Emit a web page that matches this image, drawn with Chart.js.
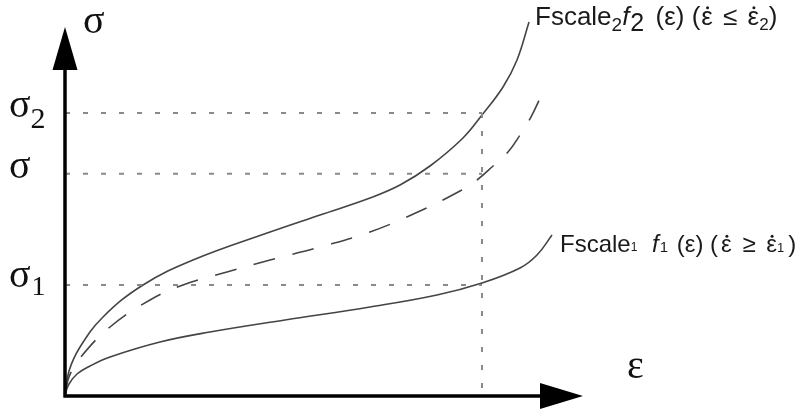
<!DOCTYPE html>
<html>
<head>
<meta charset="utf-8">
<script src="https://cdn.jsdelivr.net/npm/chart.js@4"></script>
<style>
  html, body { margin: 0; padding: 0; background: #fff; }
</style>
</head>
<body>
<canvas id="c" width="803" height="415"></canvas>
<script>
const upperX = [0.1, 0.77, 2.9, 7.34, 15.06, 24.71, 39.58, 49.23, 58.88, 64.67, 70.46, 76.83, 80.5, 84.56, 87.26, 89.58];
const upperY = [0.8, 6.78, 13.28, 21.41, 30.08, 36.86, 44.44, 49.05, 53.66, 57.18, 62.33, 69.92, 76.15, 83.74, 91.06, 101.36];

const dashedX = [0.1, 0.77, 2.9, 8.69, 16.41, 22.78, 31.27, 39.58, 49.23, 58.88, 68.53, 76.25, 79.54, 82.43, 85.52, 87.84, 90.15, 92.66];
const dashedY = [0.8, 5.15, 10.3, 18.7, 26.02, 30.08, 33.6, 36.86, 40.38, 44.44, 50.14, 55.56, 58.54, 62.06, 66.12, 70.73, 76.15, 83.74];

const lowerX = [0.1, 0.77, 2.32, 4.83, 8.69, 18.34, 27.99, 42.47, 58.88, 71.81, 80.5, 87.84, 91.12, 94.02];
const lowerY = [0.8, 3.25, 5.96, 8.13, 10.57, 14.63, 17.34, 20.6, 24.12, 27.37, 30.62, 34.69, 38.21, 43.63];

// Niveaus der gestrichelten Hilfslinien
const SIGMA1 = 30.1;
const SIGMA = 60.2;
const SIGMA2 = 76.7;
const EPS_STAR = 80.5;

const toPts = (xs, ys) => xs.map((x, i) => ({ x, y: ys[i] }));

const CURVE = '#444';
const GUIDE = '#8a8a8a';
const SERIF = '"Liberation Serif", "DejaVu Serif", serif';
const SANS = '"Liberation Sans", Arial, sans-serif';

function guide(points) {
  return {
    data: points, borderColor: GUIDE, borderWidth: 2,
    borderDash: [5, 13], pointRadius: 0, tension: 0
  };
}

function curve(xs, ys, dash) {
  return {
    data: toPts(xs, ys), borderColor: CURVE, borderWidth: 1.6,
    borderDash: dash || [], pointRadius: 0, tension: 0.4
  };
}

// Text aus Stücken (normal / tiefgestellt / kursiv / Punkt darüber) zeichnen
function drawRuns(ctx, x, y, runs, family) {
  runs.forEach(r => {
    ctx.font = (r.italic ? 'italic ' : '') + r.size + 'px ' + (r.family || family);
    const w = ctx.measureText(r.t).width;
    ctx.fillText(r.t, x, y + (r.dy || 0));
    if (r.dot) {
      ctx.beginPath();
      ctx.arc(x + w / 2 + 0.5, y - r.size * 0.66, 1.5, 0, Math.PI * 2);
      ctx.fill();
    }
    x += w + (r.gap || 0);
  });
}

const axesAndLabels = {
  id: 'axesAndLabels',
  afterDatasetsDraw(chart) {
    const { ctx, chartArea, scales } = chart;
    const x0 = scales.x.getPixelForValue(0);
    const y0 = scales.y.getPixelForValue(0);
    const top = chartArea.top, right = chartArea.right;

    ctx.save();
    ctx.strokeStyle = '#000';
    ctx.fillStyle = '#000';
    ctx.lineWidth = 3.5;
    ctx.beginPath();
    ctx.moveTo(x0, y0 + 1.5); ctx.lineTo(x0, top + 40);
    ctx.moveTo(x0 - 1.5, y0); ctx.lineTo(right - 40, y0);
    ctx.stroke();

    // Pfeilspitzen
    ctx.beginPath();
    ctx.moveTo(x0, top); ctx.lineTo(x0 - 12.5, top + 43); ctx.lineTo(x0 + 12.5, top + 43);
    ctx.closePath(); ctx.fill();
    ctx.beginPath();
    ctx.moveTo(right, y0); ctx.lineTo(right - 43, y0 - 13); ctx.lineTo(right - 43, y0 + 13);
    ctx.closePath(); ctx.fill();

    ctx.fillStyle = '#111';
    ctx.textBaseline = 'alphabetic';
    ctx.textAlign = 'left';

    // Achsenbeschriftungen
    ctx.font = '40px ' + SERIF;
    ctx.fillText('σ', x0 + 18, top + 6);
    ctx.fillText('ε', right + 44, y0 - 18);

    const yS2 = scales.y.getPixelForValue(SIGMA2);
    const yS = scales.y.getPixelForValue(SIGMA);
    const yS1 = scales.y.getPixelForValue(SIGMA1);
    drawRuns(ctx, 9, yS2 + 4, [{ t: 'σ', size: 40 }, { t: '2', size: 30, dy: 11 }], SERIF);
    drawRuns(ctx, 9, yS + 4, [{ t: 'σ', size: 40 }], SERIF);
    drawRuns(ctx, 9, yS1 + 2, [{ t: 'σ', size: 40, gap: 1 }, { t: '1', size: 28, dy: 8 }], SERIF);

    // Kurvenbeschriftungen
    ctx.fillStyle = '#1a1a1a';
    drawRuns(ctx, 535, 25, [
      { t: 'Fscale', size: 26 },
      { t: '2', size: 19, dy: 6 },
      { t: 'f', size: 26, italic: true, gap: 1 },
      { t: '2', size: 25, dy: 6, gap: 4 },
      { t: ' (ε) (', size: 26, gap: 1 },
      { t: 'ε', size: 26, dot: true, gap: 3 },
      { t: ' ≤ ', size: 26, gap: 3 },
      { t: 'ε', size: 26, dot: true },
      { t: '2', size: 17, dy: 5 },
      { t: ')', size: 26 }
    ], SANS);
    drawRuns(ctx, 560, 252, [
      { t: 'Fscale', size: 24 },
      { t: '1', size: 12, dy: -1, gap: 8 },
      { t: ' f', size: 24, italic: true, gap: 1 },
      { t: '1', size: 15, gap: 2 },
      { t: ' (ε) (', size: 24, gap: 3 },
      { t: 'ε', size: 24, dot: true, gap: 4 },
      { t: ' ≥ ', size: 24, gap: 4 },
      { t: 'ε', size: 24, dot: true },
      { t: '1', size: 13, gap: 4 },
      { t: ')', size: 24 }
    ], SANS);
    ctx.restore();
  }
};

new Chart(document.getElementById('c'), {
  type: 'line',
  data: {
    datasets: [
      guide([{ x: 0, y: SIGMA2 }, { x: EPS_STAR, y: SIGMA2 }]),
      guide([{ x: 0, y: SIGMA }, { x: EPS_STAR, y: SIGMA }]),
      guide([{ x: 0, y: SIGMA1 }, { x: EPS_STAR, y: SIGMA1 }]),
      guide([{ x: EPS_STAR, y: SIGMA2 }, { x: EPS_STAR, y: 0 }]),
      curve(upperX, upperY),
      curve(dashedX, dashedY, [22, 18]),
      curve(lowerX, lowerY)
    ]
  },
  options: {
    responsive: false,
    animation: false,
    clip: false,
    layout: { padding: { left: 65, top: 27, right: 220, bottom: 19 } },
    plugins: { legend: { display: false }, tooltip: { enabled: false } },
    scales: {
      x: { type: 'linear', min: 0, max: 100, display: false },
      y: { type: 'linear', min: 0, max: 100, display: false }
    }
  },
  plugins: [axesAndLabels]
});
</script>
</body>
</html>
